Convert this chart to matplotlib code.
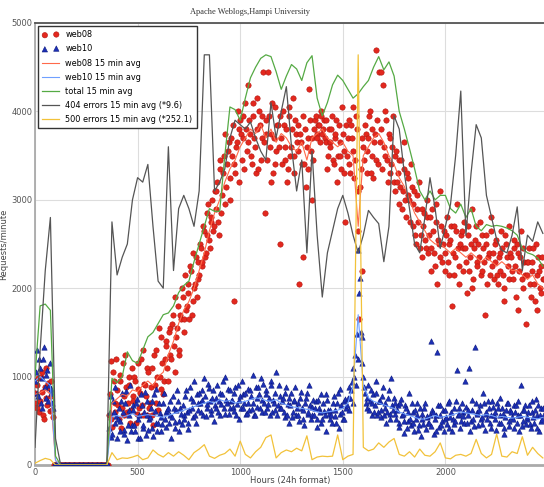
import numpy as np
import matplotlib
matplotlib.use("Agg")
import matplotlib.pyplot as plt

# ---------------- data ----------------
# per-sample requests/minute; "_a" samples sit at x = 0, 8, 16, ... and
# "_b" samples sit half-way between them (x = 4, 12, 20, ...)
web08_a = [
    820, 650, 980, 720, 1050, 560, 880, 760, 930, 610,
    780, 540, 0, 0, 0, 0, 0, 0, 0, 0,
    0, 0, 0, 0, 0, 0, 0, 0, 0, 0,
    0, 0, 0, 0, 0, 0, 0, 0, 0, 0,
    0, 0, 0, 0, 0, 560, 1180, 430, 950, 700,
    850, 520, 1020, 640, 780, 1250, 600, 900, 470, 1100,
    720, 950, 580, 1150, 820, 680, 1300, 900, 560, 1050,
    700, 1100, 450, 900, 1300, 620, 1000, 1450, 800, 1200,
    1350, 950, 1550, 1200, 1700, 1050, 1450, 1800, 1300, 1650,
    1900, 1500, 1750, 2050, 1650, 2200, 1850, 2000, 2350, 2100,
    2150, 2450, 2300, 2650, 2400, 2850, 2550, 2750, 3000, 2700,
    2900, 3200, 2600, 3350, 3050, 3500, 2950, 3400, 3650, 3250,
    3500, 1850, 3300, 3650, 3800, 3900, 3450, 3700, 4100, 3550,
    4300, 3750, 3400, 3950, 3600, 4150, 3350, 3850, 3700, 4450,
    2850, 3900, 4450, 3600, 3750, 3300, 4050, 3550, 3850, 2500,
    3700, 4000, 3450, 3800, 3350, 3950, 3600, 4150, 3500, 3750,
    3850, 2050, 3650, 3950, 3400, 3150, 3700, 4250, 3550, 3000,
    3800, 3950, 3700, 3850, 4000, 3750, 3900, 3650, 3350, 3800,
    3600, 3950, 3400, 3750, 3200, 3850, 3500, 4050, 3300, 2750,
    3500, 3900, 3300, 3700, 4050, 3450, 3800, 2650, 3150, 2200,
    3600, 3850, 3300, 3700, 4000, 3500, 3250, 3750, 4700, 3400,
    3650, 4450, 4300, 3500, 3900, 3200, 3700, 3400, 3950, 3100,
    3550, 3300, 2950, 3450, 3100, 3650, 2800, 3250, 3000, 3400,
    2700, 3100, 2500, 2900, 3200, 2600, 2350, 2850, 2450, 3000,
    2600, 2200, 2900, 2400, 2750, 2050, 2500, 3100, 2300, 2650,
    2400, 2800, 2150, 2550, 1800, 2700, 2350, 2950, 2250, 2500,
    2650, 2200, 2450, 1950, 2700, 2350, 2900, 2100, 2550, 2300,
    2500, 2750, 2200, 2450, 1700, 2600, 2350, 2150, 2800, 2400,
    2300, 2550, 2050, 2400, 2650, 2150, 1850, 2500, 2250, 2700,
    2350, 2100, 2550, 1900, 2400, 2200, 2650, 2000, 2300, 1600,
    2150, 2450, 1900, 2300, 2050, 2500, 1750, 2200, 1950, 2350,
    2100,
]
web08_b = [
    700, 900, 600, 1000, 830, 520, 1100, 680, 870, 950,
    620, 0, 0, 0, 0, 0, 0, 0, 0, 0,
    0, 0, 0, 0, 0, 0, 0, 0, 0, 0,
    0, 0, 0, 0, 0, 0, 0, 0, 0, 0,
    0, 0, 0, 0, 0, 800, 520, 1050, 600, 1200,
    680, 950, 420, 1150, 560, 880, 700, 1000, 620, 780,
    1000, 480, 860, 640, 1200, 560, 920, 780, 1100, 640,
    880, 560, 1250, 700, 1000, 1550, 860, 1150, 950, 1400,
    1100, 1500, 1250, 1600, 1350, 1900, 1550, 1250, 1700, 2000,
    1650, 2150, 1800, 1950, 2250, 1700, 2400, 2050, 1900, 2300,
    2500, 2250, 2700, 2350, 2600, 2950, 2450, 2800, 2650, 3100,
    3100, 2750, 3450, 2850, 3300, 3750, 3150, 3550, 3000, 3700,
    3850, 3400, 3600, 4000, 3200, 3750, 3950, 3350, 3800, 3650,
    3900, 3500, 4100, 3700, 3300, 3800, 4000, 3450, 3950, 3650,
    3750, 3450, 3950, 3200, 4100, 3700, 3400, 3850, 3600, 3950,
    3400, 3850, 3600, 3200, 4050, 3500, 3800, 3300, 3900, 3650,
    3550, 3750, 3400, 2350, 3800, 3600, 3350, 3900, 3700, 3450,
    3900, 3750, 3850, 3650, 3950, 3800, 3700, 3900, 3500, 3650,
    3800, 3450, 3700, 3900, 3500, 3650, 3350, 3750, 3550, 3850,
    3700, 3400, 3850, 3550, 3250, 3950, 3100, 1650, 3350, 3700,
    3450, 3750, 3550, 3950, 3300, 3800, 3650, 3450, 3900, 4450,
    3800, 3350, 3600, 4000, 3450, 3750, 3300, 3600, 3200, 3500,
    3200, 3450, 3150, 2900, 3350, 3000, 3300, 3050, 2750, 3150,
    2950, 2600, 3050, 2750, 2450, 2900, 2700, 2550, 2800, 2400,
    2800, 2450, 2650, 2250, 2950, 2550, 2350, 2700, 2500, 2200,
    2600, 2300, 2500, 2700, 2400, 2150, 2650, 2450, 2050, 2600,
    2450, 2750, 2300, 2600, 2200, 2500, 2000, 2450, 2700, 2250,
    2350, 2150, 2600, 2300, 2500, 2050, 2400, 2650, 2250, 2100,
    2500, 2150, 2350, 2200, 2450, 2000, 2600, 2350, 2100, 2400,
    2200, 2450, 2250, 2500, 1750, 2350, 2100, 2450, 2150, 2300,
    2300, 2050, 2200, 2450, 1850, 2150, 2350, 2000, 2250, 2100,
]
web10_a = [
    950, 1300, 780, 1100, 650, 1200, 880, 1020, 720, 1150,
    860, 640, 0, 0, 0, 0, 0, 0, 0, 0,
    0, 0, 0, 0, 0, 0, 0, 0, 0, 0,
    0, 0, 0, 0, 0, 0, 0, 0, 0, 0,
    0, 0, 0, 0, 0, 420, 780, 350, 600, 880,
    300, 650, 500, 820, 400, 700, 280, 560, 900, 450,
    620, 380, 750, 520, 310, 680, 450, 830, 560, 400,
    540, 720, 330, 610, 860, 470, 590, 380, 700, 520,
    430, 650, 560, 300, 780, 490, 620, 720, 380, 580,
    680, 520, 850, 410, 620, 760, 540, 950, 470, 700,
    820, 600, 740, 980, 550, 690, 870, 620, 760, 500,
    650, 900, 720, 560, 800, 640, 1000, 700, 580, 850,
    740, 610, 880, 690, 520, 780, 950, 650, 820, 590,
    700, 850, 630, 1020, 560, 760, 880, 640, 730, 920,
    600, 800, 690, 560, 900, 740, 620, 1050, 680, 780,
    650, 760, 540, 880, 690, 470, 820, 600, 740, 560,
    700, 500, 830, 620, 450, 760, 580, 900, 520, 660,
    560, 720, 430, 650, 800, 520, 610, 380, 740, 580,
    620, 480, 780, 550, 700, 420, 860, 600, 520, 750,
    680, 880, 760, 940, 1100, 1250, 1480, 2430, 2120, 1450,
    1000, 820, 650, 900, 720, 560, 800, 680, 950, 600,
    720, 540, 880, 650, 470, 760, 580, 980, 620, 700,
    520, 680, 430, 750, 580, 360, 640, 500, 820, 450,
    600, 380, 520, 700, 450, 330, 580, 640, 410, 550,
    480, 1400, 620, 350, 560, 1280, 430, 680, 500, 390,
    620, 460, 720, 540, 380, 650, 500, 1080, 580, 420,
    700, 550, 950, 480, 620, 380, 740, 520, 1330, 600,
    450, 680, 540, 820, 400, 600, 720, 480, 560, 660,
    520, 400, 640, 760, 480, 580, 350, 620, 700, 440,
    600, 520, 420, 680, 560, 380, 900, 500, 620, 460,
    540, 680, 420, 600, 480, 750, 560, 380, 640, 520,
    580,
]
web10_b = [
    1050, 820, 1200, 700, 980, 1340, 760, 1080, 900, 820,
    700, 0, 0, 0, 0, 0, 0, 0, 0, 0,
    0, 0, 0, 0, 0, 0, 0, 0, 0, 0,
    0, 0, 0, 0, 0, 0, 0, 0, 0, 0,
    0, 0, 0, 0, 0, 600, 320, 720, 480, 550,
    520, 380, 720, 600, 350, 840, 450, 620, 380, 680,
    450, 700, 300, 560, 800, 420, 600, 340, 720, 520,
    650, 420, 800, 480, 380, 700, 540, 460, 820, 600,
    620, 480, 720, 540, 650, 420, 850, 500, 640, 460,
    560, 780, 600, 480, 880, 650, 720, 560, 800, 620,
    700, 850, 560, 780, 640, 920, 720, 580, 850, 680,
    760, 600, 820, 690, 950, 580, 740, 860, 640, 720,
    660, 820, 560, 900, 730, 640, 800, 700, 580, 860,
    620, 780, 700, 560, 880, 660, 800, 980, 600, 700,
    850, 640, 760, 950, 600, 700, 820, 560, 900, 640,
    720, 600, 820, 560, 760, 680, 540, 720, 880, 640,
    560, 760, 640, 520, 700, 820, 600, 680, 560, 740,
    650, 520, 740, 600, 480, 700, 560, 800, 620, 520,
    560, 700, 620, 480, 820, 580, 680, 520, 720, 640,
    760, 620, 850, 700, 1000, 900, 1200, 1950, 1500, 1150,
    880, 700, 760, 620, 850, 700, 600, 820, 560, 720,
    620, 780, 560, 700, 600, 850, 520, 680, 760, 580,
    620, 480, 700, 560, 500, 680, 420, 600, 520, 700,
    480, 620, 560, 400, 640, 520, 460, 700, 540, 480,
    560, 440, 600, 520, 380, 680, 560, 450, 620, 520,
    540, 700, 420, 600, 520, 460, 720, 560, 640, 500,
    600, 480, 660, 560, 1100, 500, 620, 440, 700, 580,
    620, 520, 460, 700, 580, 520, 640, 420, 720, 560,
    600, 700, 480, 560, 640, 420, 540, 700, 500, 620,
    540, 680, 600, 480, 720, 560, 440, 620, 680, 520,
    600, 460, 720, 540, 620, 420, 680, 560, 500, 640,
]

# 15 minute averages (one value every 25 units along the x axis)
web08_avg = [
    800, 820, 850, 800, 50, 0, 0, 0, 0, 0,
    0, 0, 0, 0, 0, 700, 750, 800, 780, 850,
    830, 900, 950, 900, 1000, 1050, 1250, 1400, 1600, 1750,
    1850, 2000, 2200, 2400, 2650, 2850, 3000, 3200, 3350, 3450,
    3600, 3700, 3800, 3750, 3850, 3700, 3800, 3650, 3750, 3700,
    3600, 3550, 3650, 3450, 3700, 3750, 3800, 3700, 3650, 3600,
    3650, 3550, 3500, 2700, 3500, 3600, 3700, 3750, 3650, 3500,
    3400, 3250, 3150, 3000, 2850, 2750, 2650, 2550, 2500, 2500,
    2450, 2400, 2450, 2400, 2350, 2400, 2350, 2300, 2350, 2300,
    2250, 2300, 2250, 2200, 2200, 2150, 2100, 2150, 2050, 2000,
]
web10_avg = [
    950, 1000, 950, 900, 50, 0, 0, 0, 0, 0,
    0, 0, 0, 0, 0, 550, 560, 540, 560, 580,
    550, 560, 570, 560, 550, 540, 560, 580, 600, 620,
    640, 660, 680, 700, 720, 700, 740, 720, 730, 700,
    710, 720, 740, 760, 750, 730, 720, 740, 700, 680,
    660, 650, 640, 630, 620, 600, 590, 600, 610, 620,
    640, 700, 900, 1700, 900, 760, 720, 700, 680, 660,
    640, 600, 580, 560, 540, 520, 520, 540, 560, 540,
    550, 560, 580, 600, 590, 580, 570, 560, 570, 560,
    540, 550, 540, 530, 540, 550, 540, 530, 520, 540,
]
total_avg = [
    1000, 1800, 1820, 1750, 100, 0, 0, 0, 0, 0,
    0, 0, 0, 0, 0, 980, 930, 1000, 1280, 1180,
    1150, 1300, 1450, 1500, 1600, 1700, 1720, 1800, 1950, 2030,
    2080, 2300, 2500, 2700, 2900, 2870, 2870, 3500, 4050, 4020,
    3900, 4150, 4380, 4500, 4600, 4640, 4620, 4450, 4250, 4400,
    4530, 4480, 4350, 4550, 4630, 4150, 3950, 4100, 4300, 4410,
    4350, 4250, 4150, 4200, 4280, 4350, 4500, 4620, 4470, 4560,
    4400, 4000, 3800, 3580, 3350, 3100, 3000, 3100, 3000, 3050,
    3050, 2900, 2850, 2950, 2800, 2900, 2700, 2650, 2720, 2700,
    2710, 2700, 2680, 2650, 2600, 2450, 2400, 2380, 2340, 2250,
]
err404_avg_scaled = [
    200, 1300, 2200, 2800, 300, 0, 0, 0, 0, 0,
    0, 0, 0, 0, 0, 2750, 2150, 2350, 2500, 3000,
    3250, 3200, 3400, 2700, 2080, 2000, 3600, 2200, 2900, 3050,
    2900, 2700, 3100, 4640, 4640, 3100, 3200, 3350, 3700, 3900,
    3850, 3800, 3880, 3700, 3550, 3450, 4100, 3700, 4000, 4280,
    3600, 3100, 3450, 2400, 3550, 2600, 1900, 2400, 2650, 2900,
    3050, 2850, 2600, 2400, 2600, 2880, 2800, 2730, 2300, 2700,
    3950, 3800, 3300, 2900, 2500, 2400, 2800, 3250, 2900, 2450,
    2700, 2950, 3500, 4230, 2600, 3300, 3850, 3700, 3050, 2800,
    2550, 2430, 2400, 2600, 2920, 2200, 2600, 2530, 2750, 2620,
]
err500_avg_scaled = [
    20, 50, 75, 60, 0, 0, 0, 0, 0, 0,
    0, 0, 0, 0, 0, 140, 60, 80, 75, 90,
    110, 60, 80, 170, 120, 90, 140, 100, 150, 110,
    60, 140, 180, 230, 100, 75, 110, 130, 180, 100,
    270, 120, 80, 150, 200, 310, 340, 80, 140, 170,
    150, 190, 160, 330, 60, 90, 100, 95, 100, 340,
    60, 100, 120, 4640, 200, 160, 180, 250, 200, 260,
    300, 120, 100, 150, 90, 180, 110, 100, 150, 250,
    80, 70, 110, 120, 100, 130, 290, 130, 80, 120,
    350, 100, 90, 150, 130, 320, 110, 200, 130, 80,
]

labels = ["web08", "web10", "web08 15 min avg", "web10 15 min avg",
          "total 15 min avg", "404 errors 15 min avg (*9.6)",
          "500 errors 15 min avg (*252.1)"]
x_ticks = [0, 500, 1000, 1500, 2000]
y_ticks = [0, 1000, 2000, 3000, 4000, 5000]


def interleave(a, b):
    out = np.empty(len(a) + len(b))
    out[0::2] = a
    out[1::2] = b
    return out


web08 = interleave(web08_a, web08_b)
web10 = interleave(web10_a, web10_b)

# ---------------- drawing ----------------
W, H = 544, 487
fig = plt.figure(figsize=(W / 100, H / 100), dpi=100)
ax = fig.add_axes([35 / W, 1 - 465 / H, (W - 35) / W, (465 - 23) / H])

xs = np.arange(len(web08)) * 4
xa = np.arange(len(total_avg)) * 25

ax.scatter(xs, web08, s=15, marker="o", color="#e3281e",
           edgecolors="#b3140e", linewidths=0.4, zorder=3, label=labels[0])
ax.scatter(xs, web10, s=15, marker="^", color="#1c2fb5",
           edgecolors="#0c1a80", linewidths=0.4, zorder=4, label=labels[1])
ax.plot(xa, web08_avg, color="#ff6a4a", lw=0.8, zorder=5, label=labels[2])
ax.plot(xa, web10_avg, color="#6fa0ff", lw=0.8, zorder=5, label=labels[3])
ax.plot(xa, total_avg, color="#55aa44", lw=0.9, zorder=5, label=labels[4])
ax.plot(xa, err404_avg_scaled, color="#555555", lw=0.9, zorder=5, label=labels[5])
ax.plot(xa, err500_avg_scaled, color="#f2c23a", lw=0.9, zorder=5, label=labels[6])

ax.set_xlim(0, (W - 34) / 0.2056)
ax.set_ylim(0, 5000)
ax.set_xticks(x_ticks)
ax.set_yticks(y_ticks)
ax.tick_params(length=0, labelsize=6, labelcolor="#555555", pad=2)
ax.grid(True, color="#dddddd", lw=0.8, zorder=0)
ax.set_axisbelow(True)

ax.spines["right"].set_visible(False)
ax.spines["top"].set_color("#555555")
ax.spines["top"].set_linewidth(1.3)
ax.spines["left"].set_color("#aaaaaa")
ax.spines["left"].set_linewidth(1.3)
ax.spines["bottom"].set_color("#aaaaaa")
ax.spines["bottom"].set_linewidth(2.0)

ax.set_xlabel("Hours (24h format)", fontsize=6, color="#444444")
ax.xaxis.set_label_coords((290 - 35) / (W - 35), -0.025)
ax.set_ylabel("Requests/minute", fontsize=6, color="#444444")
ax.yaxis.set_label_coords(-0.053, 0.5)

fig.text(250 / W, 1 - 12 / H, "Apache Weblogs,Hampi University",
         family="Liberation Serif", fontsize=6, ha="center", va="center",
         color="#333333")

leg = ax.legend(loc="upper left", fontsize=5.9, scatterpoints=2,
                frameon=True, fancybox=False, framealpha=1,
                borderaxespad=0.4, handlelength=2.0, labelspacing=0.62,
                borderpad=0.5)
leg.get_frame().set_edgecolor("#333333")
leg.get_frame().set_linewidth(1.0)
leg.set_zorder(10)

fig.savefig("out.png", dpi=100)
